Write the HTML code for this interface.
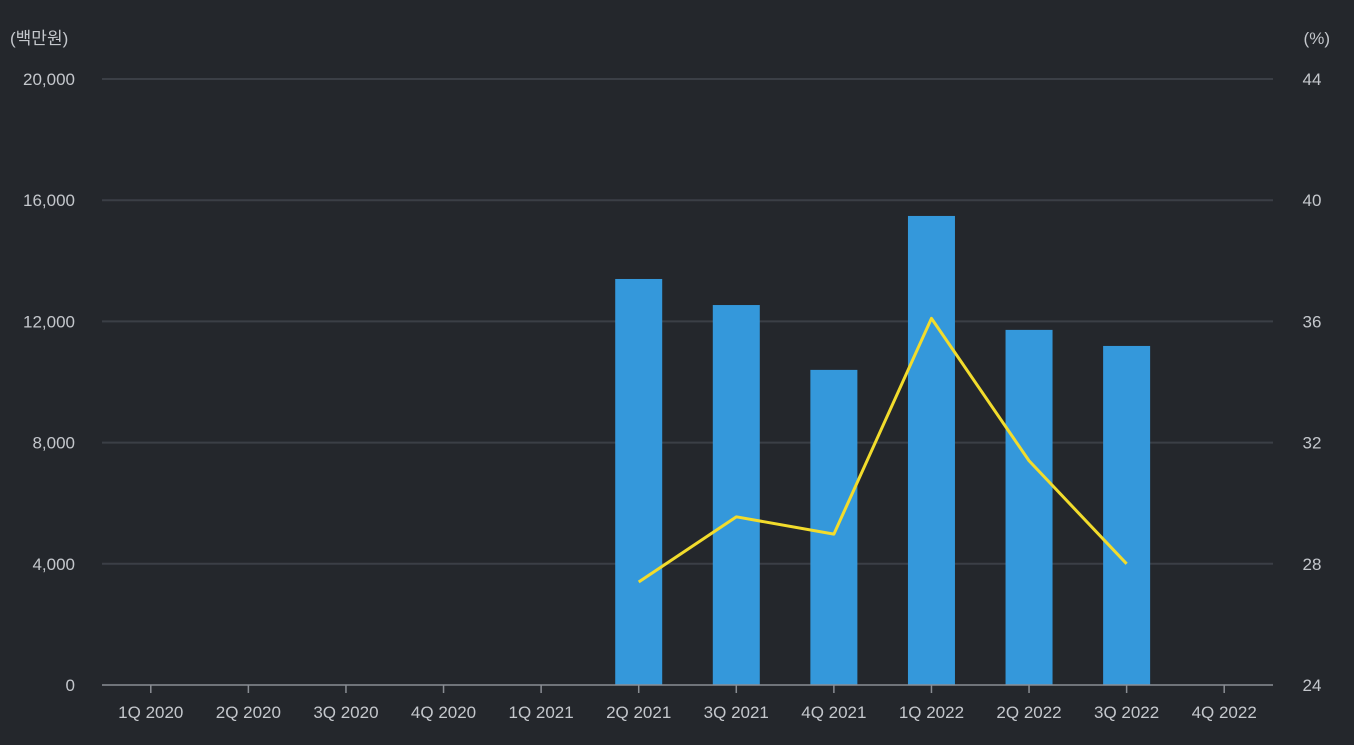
<!DOCTYPE html>
<html><head><meta charset="utf-8"><style>
html,body{margin:0;padding:0;background:#24272c;}
svg{display:block;font-family:"Liberation Sans","Noto Sans CJK KR",sans-serif;}
</style></head><body>
<svg id="chart" width="1354" height="745">
<rect width="1354" height="745" fill="#24272c"/>
<text x="10" y="44" fill="#c4c7cc" font-size="17">(백만원)</text>
<text x="1330" y="44" fill="#c4c7cc" font-size="17" text-anchor="end">(%)</text>
<g id="grid"></g><g id="bars"></g><g id="line"></g><g id="axes"></g>
</svg>
<script>
const categories=["1Q 2020","2Q 2020","3Q 2020","4Q 2020","1Q 2021","2Q 2021","3Q 2021","4Q 2021","1Q 2022","2Q 2022","3Q 2022","4Q 2022"];
const barValues=[null,null,null,null,null,13400,12540,10400,15480,11720,11190,null];
const lineValues=[null,null,null,null,null,27.4,29.55,28.98,36.1,31.4,28.0,null];
const leftTicks=[0,4000,8000,12000,16000,20000];
const rightTicks=[24,28,32,36,40,44];
const NS="http://www.w3.org/2000/svg";
const X0=102,X1=1273,Y0=685,Y1=79;
const bw=(X1-X0)/categories.length;
const xc=i=>X0+bw*(i+0.5);
const yL=v=>Y0-(v-0)/(20000-0)*(Y0-Y1);
const yR=v=>Y0-(v-24)/(44-24)*(Y0-Y1);
function mk(tag,attrs,parent){const e=document.createElementNS(NS,tag);for(const k in attrs)e.setAttribute(k,attrs[k]);parent.appendChild(e);return e;}
const grid=document.getElementById('grid'),bars=document.getElementById('bars'),line=document.getElementById('line'),axes=document.getElementById('axes');
leftTicks.forEach((t,i)=>{
 const y=yL(t);
 if(i>0){const g=mk('line',{x1:X0,x2:X1,y1:y,y2:y,stroke:'#3b3f46','stroke-width':2},grid);
 
 }
 const tx=mk('text',{x:75,y:y+6,fill:'#c4c7cc','font-size':17,'text-anchor':'end'},axes);tx.textContent=t.toLocaleString('en-US');
 
 
});
rightTicks.forEach(t=>{
 const tx=mk('text',{x:1312,y:yR(t)+6,fill:'#c4c7cc','font-size':17,'text-anchor':'middle'},axes);tx.textContent=t;
 
 
});
barValues.forEach((v,i)=>{
 if(v==null)return;
 const r=mk('rect',{x:xc(i)-23.5,y:yL(v),width:47,height:Y0-yL(v),fill:'#3498db'},bars);
 
 
});
const pts=[];lineValues.forEach((v,i)=>{if(v!=null)pts.push(xc(i)+','+yR(v));});
const pl=mk('polyline',{points:pts.join(' '),fill:'none',stroke:'#f2dc2c','stroke-width':3,'stroke-linejoin':'round'},line);


const ax=mk('line',{x1:X0,x2:X1,y1:Y0,y2:Y0,stroke:'#8a8e94','stroke-width':1.5},axes);


categories.forEach((c,i)=>{
 const tk=mk('line',{x1:xc(i),x2:xc(i),y1:Y0,y2:Y0+8,stroke:'#8a8e94','stroke-width':1.5},axes);
 
 
 const tx=mk('text',{x:xc(i),y:718,fill:'#c4c7cc','font-size':17,'text-anchor':'middle'},axes);tx.textContent=c;
 
 
});
</script>
</body></html>
